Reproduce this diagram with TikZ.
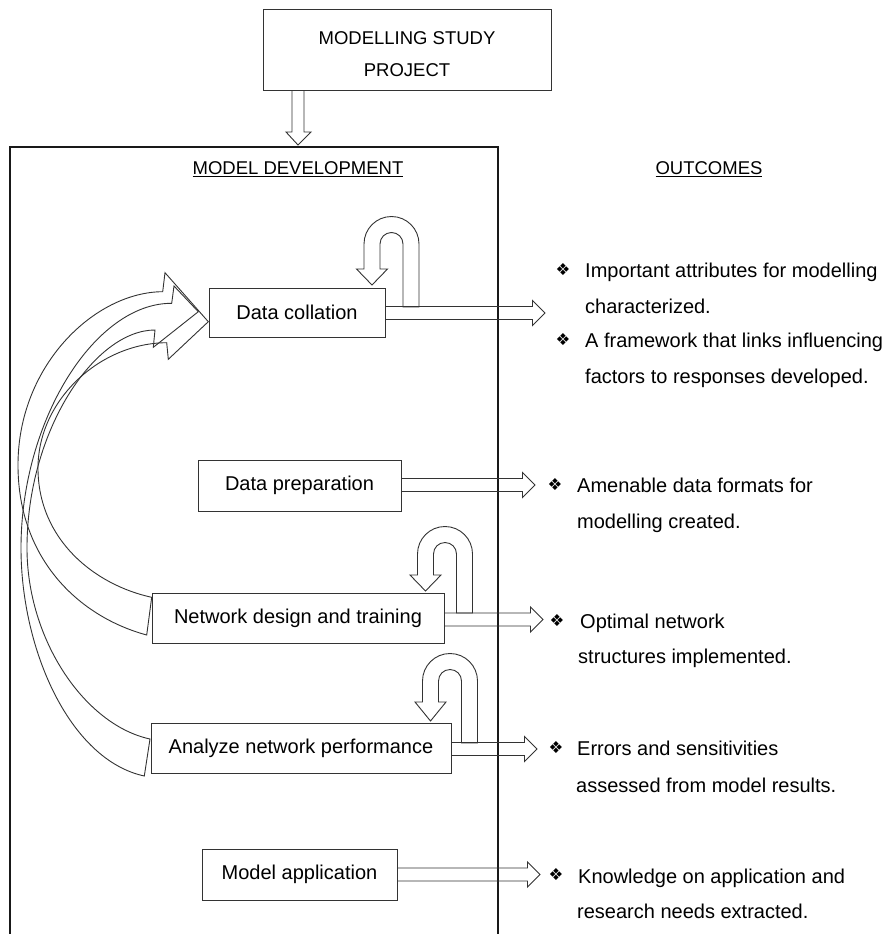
\documentclass[tikz,border=0pt]{standalone}
\usepackage{fontspec}
\setmainfont{Liberation Sans}
\newfontfamily\dingfont{DejaVu Sans}

% hollow block arrow pointing right: start x, centre y, tip x
\newcommand{\blockarrow}[3]{%
  \draw[hollow] (#1,#2-6.5) -- (#3-12.5,#2-6.5) -- (#3-12.5,#2-12.5) -- (#3,#2)
    -- (#3-12.5,#2+12.5) -- (#3-12.5,#2+6.5) -- (#1,#2+6.5);}

% hollow U-turn arrow: centre x, centre y of the bend, leg bottom, head start, tip
\newcommand{\turnarrow}[5]{%
  \draw[hollow] (#1+11.5,#3) -- (#1+11.5,#2) arc[start angle=0, end angle=-180, radius=11.5]
    -- (#1-11.5,#4) -- (#1-4,#4) -- (#1-19.5,#5) -- (#1-35,#4) -- (#1-27.5,#4)
    -- (#1-27.5,#2) arc[start angle=180, end angle=360, radius=27.5] -- (#1+27.5,#3) -- cycle;}

\begin{document}
\begin{tikzpicture}[x=1pt, y=-1pt, line join=miter,
  hollow/.style={draw=black!80, line width=0.9pt},
  box/.style={draw=black!80, line width=1pt, fill=white, inner sep=0pt,
    font=\fontsize{20}{24}\selectfont},
  heading/.style={inner sep=0pt, font=\fontsize{18.5}{22}\selectfont},
  outtext/.style={anchor=base west, inner sep=0pt, font=\fontsize{20}{24}\selectfont},
  bullet/.style={inner sep=0pt, font=\dingfont\fontsize{16.5}{18}\selectfont}]

\useasboundingbox (0,0) rectangle (891,934);

% project box and the arrow into the development frame
\node[box, minimum width=288pt, minimum height=80pt] (project) at (407,50) {};
\node[heading, align=center, font=\fontsize{18.5}{32}\selectfont] (projecttext) at (407,54)
  {MODELLING STUDY\\PROJECT};
\draw[hollow] (292,90) -- (292,132) -- (286,132) -- (298,145) -- (311,132) -- (304,132) -- (304,90);

% model development frame (open at the bottom)
\draw[black!90, line width=1.3pt] (10,934) -- (10,147) -- (498,147) -- (498,934);

\node[heading] (devhead) at (298,169) {\underline{MODEL DEVELOPMENT}};
\node[heading] (outhead) at (709,169) {\underline{OUTCOMES}};

% feedback arrows back to data collation
\draw[hollow] (151.7,597.3) .. controls (95,585) and (38,540) .. (38,468)
  .. controls (38,400) and (100,343) .. (166.7,342.7) -- (168.3,359.3) -- (208.3,321.7)
  -- (165,272.7) -- (162.7,291.7) .. controls (95,292) and (18,365) .. (18,465)
  .. controls (18,560) and (80,617) .. (146.7,635) -- cycle;
\draw[hollow] (150,739) .. controls (85,725) and (27,640) .. (27,548)
  .. controls (27,430) and (95,330) .. (155,330) -- (153.3,347.3) -- (198.3,311.7)
  -- (174,286) -- (171.7,303.3) .. controls (95,303) and (21,420) .. (21,548)
  .. controls (21,650) and (70,760) .. (144.3,776) -- cycle;

% process steps
\node[box, minimum width=176pt, minimum height=49pt] (collate) at (297,312.5) {Data collation};
\node[box, minimum width=203pt, minimum height=51pt] (prepare) at (299.5,485.5) {Data preparation};
\node[box, minimum width=292pt, minimum height=50pt] (design) at (298,618) {Network design and training};
\node[box, minimum width=300pt, minimum height=50pt] (analyze) at (301,748) {Analyze network performance};
\node[box, minimum width=195pt, minimum height=51pt] (apply) at (299.5,874.5) {Model application};

% iteration loops
\turnarrow{391.5}{244}{307}{269}{285}
\turnarrow{445}{554}{613}{575}{591}
\turnarrow{450}{681}{743}{702}{721}

% arrows to the outcomes
\blockarrow{385}{313}{545}
\blockarrow{401}{485}{535}
\blockarrow{444}{619.5}{543}
\blockarrow{451}{749}{537}
\blockarrow{397}{874.5}{540}

% outcomes
\node[bullet] (b1) at (563,270) {❖};
\node[outtext] (o1a) at (585,277) {Important attributes for modelling};
\node[outtext] (o1b) at (585,313) {characterized.};
\node[bullet] (b2) at (563,340) {❖};
\node[outtext] (o2a) at (585,347) {A framework that links influencing};
\node[outtext] (o2b) at (585,383) {factors to responses developed.};

\node[bullet] (b3) at (555,485) {❖};
\node[outtext] (o3a) at (577,492) {Amenable data formats for};
\node[outtext] (o3b) at (577,528) {modelling created.};

\node[bullet] (b4) at (557,621) {❖};
\node[outtext] (o4a) at (580,628) {Optimal network};
\node[outtext] (o4b) at (578,663) {structures implemented.};

\node[bullet] (b5) at (556,748) {❖};
\node[outtext] (o5a) at (577,755) {Errors and sensitivities};
\node[outtext] (o5b) at (576,792) {assessed from model results.};

\node[bullet] (b6) at (556,875) {❖};
\node[outtext] (o6a) at (578,883) {Knowledge on application and};
\node[outtext] (o6b) at (577,918) {research needs extracted.};
\end{tikzpicture}
\end{document}
